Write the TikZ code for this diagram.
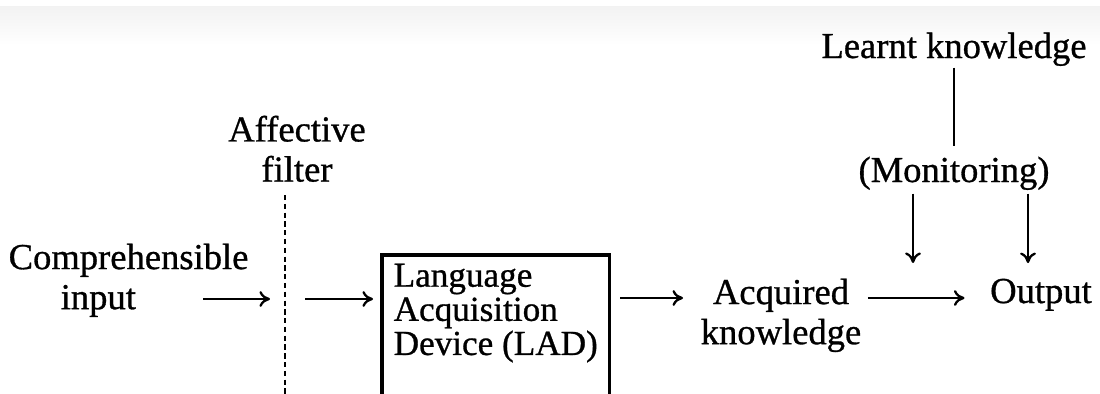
\documentclass[tikz,border=0pt]{standalone}
\usepackage{fontspec}
\setmainfont{Liberation Serif}[FakeBold=0.8]
\usetikzlibrary{arrows.meta}
\begin{document}
\begin{tikzpicture}[x=0.01cm,y=-0.01cm,
  txt/.style={inner sep=0pt, font=\fontsize{10.4}{11.4}\selectfont},
  ladtxt/.style={inner xsep=0.11cm, inner ysep=0.08cm, font=\fontsize{10}{9.7}\selectfont, align=left},
  arr/.style={line width=0.65pt, -{To[length=3pt,width=4.5pt]}},
  ln/.style={line width=0.65pt},
  filterline/.style={line width=0.65pt, dash pattern=on 1.5pt off 1pt},
  boxline/.style={line width=0.9pt}]
\useasboundingbox (0,0) rectangle (1100,394);
\clip (0,0) rectangle (1100,394);
\shade[top color=black!5, bottom color=white] (0,6) rectangle (1100,45);
% nodes
\node[txt, anchor=base] (learnt) at (954,58) {Learnt knowledge};
\node[txt, anchor=base] (mon) at (954,182) {(Monitoring)};
\node[txt, anchor=base] (out) at (1041,303) {Output};
\node[txt, anchor=north, align=center] (acq) at (781,278) {Acquired\\knowledge};
\node[txt, anchor=north west, align=left] (cin) at (8,243) {Comprehensible\\\hspace*{0.52cm}input};
\node[txt, anchor=north, align=center] (aff) at (297,115) {Affective\\filter};
\node[ladtxt, anchor=north west] (lad) at (382,255) {Language\\Acquisition\\Device (LAD)};
% helper coordinates
\coordinate (bot) at (0,400);
\coordinate (row) at (0,298);
\coordinate (a1) at (203,299);
\coordinate (ftop) at (285,195);
\coordinate (fbot) at (285,400);
\coordinate (m1) at (913,298);
\coordinate (m2) at (1028,0);
% LAD box (runs past the lower edge)
\draw[boxline] (lad.west |- bot) -- (lad.north west) -- (lad.north east) -- (lad.east |- bot);
% affective filter
\draw[filterline] (ftop) -- (fbot);
% connectors
\draw[arr, shorten >=0.15cm] (a1) -- (a1 -| ftop);
\draw[arr, shorten <=0.2cm, shorten >=0.09cm] (ftop |- a1) -- (lad.west |- a1);
\draw[arr, shorten <=0.11cm, shorten >=0.17cm] (lad.east |- row) -- (acq.west |- row);
\draw[arr, shorten <=0.06cm, shorten >=0.25cm] (acq.east |- row) -- (out.west |- row);
\draw[ln, shorten <=0.01cm, shorten >=0.1cm] (learnt.south) -- (mon.north);
\draw[arr, shorten <=0.03cm, shorten >=0.35cm] (mon.south -| m1) -- (m1);
\draw[arr, shorten <=0.03cm, shorten >=0.15cm] (mon.south -| m2) -- (out.north -| m2);
\end{tikzpicture}
\end{document}
